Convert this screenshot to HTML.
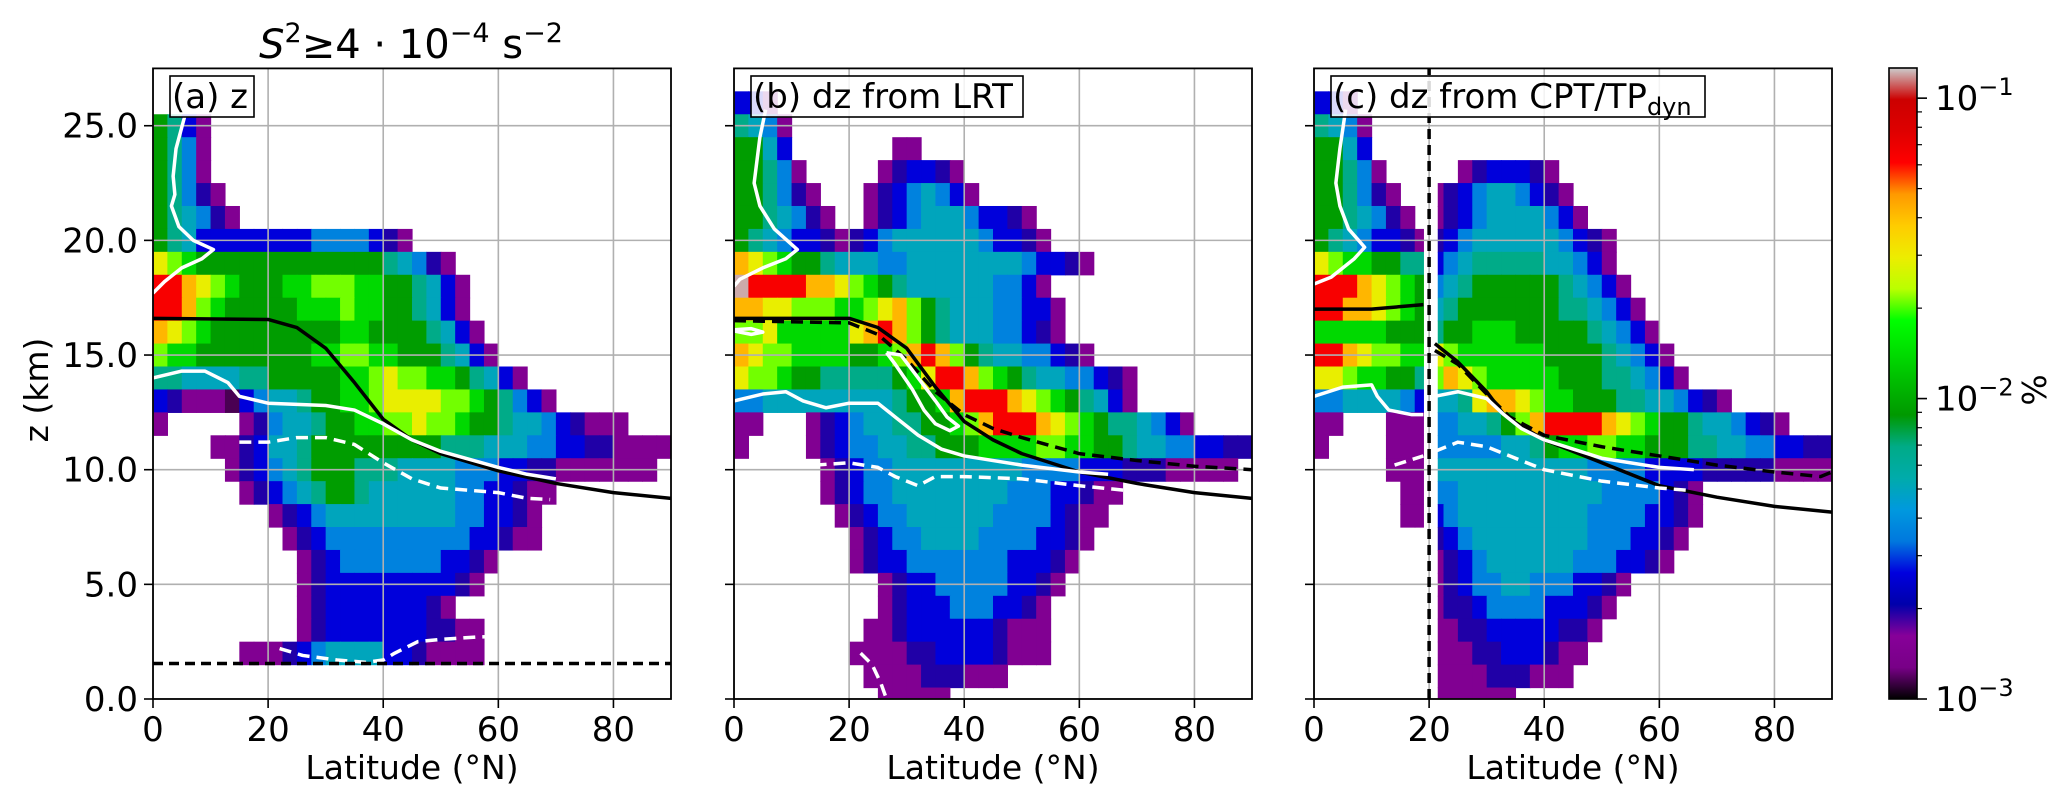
<!DOCTYPE html>
<html><head><meta charset="utf-8">
<style>
html,body{margin:0;padding:0;background:#fff;}
svg{display:block;font-family:"DejaVu Sans","Liberation Sans",sans-serif;}
</style></head>
<body>
<svg id="fig" xmlns="http://www.w3.org/2000/svg" width="2067" height="805" viewBox="0 0 2067 805">
<text x="411" y="58" font-size="40" text-anchor="middle"><tspan font-style="italic">S</tspan><tspan font-size="27" dy="-16">2</tspan><tspan dy="16">≥4 · 10</tspan><tspan font-size="27" dy="-16">−4</tspan><tspan dy="16"> s</tspan><tspan font-size="27" dy="-16">−2</tspan></text>
<g id="panels"></g>
<g id="cbar"></g>
</svg>
<script>
// ---- data ----
const latEdgeStep = 2.5; // degrees per column
const rowTops = [26.5,25.5,24.5,23.5,22.5,21.5,20.5,19.5,18.5,17.5,16.5,15.5,14.5,13.5,12.5,11.5,10.5,9.5,8.5,7.5,6.5,5.5,4.5,3.5,2.5,1.5,0.5];
const levelCodes = "0123456789ABCD";
const levelValues = [0.00116,0.00147,0.00195,0.0026,0.0036,0.0050,0.0069,0.0091,0.0138,0.0211,0.0290,0.0418,0.0640,0.121];
const gridA = ["","7631","7641","7641","76421","765421","765333333334444321","A98777777777777765421","CCBA987778899988776531","CCB9877777888988776531","BA987777777778877776531","988777777778899887776531","6655556677777889A998876531","3211103455677889AAAA99876431","1.....124556778899A99877655432111","....11235567777777776665554433221111",".....123456777666555544433221111111","......1234567765555554433211","........1234555555555443321",".........123444444444433211","..........12344444443321","..........1233333333321","..........12333333321","..........1233333332211","......11123455553321111","",""];
const gridB = ["331","6541","7753.......11","77641.....123321","776421...12345431","7765421..123455543321","7654332123455555543321","BA98776555445555555543321","DCCCCBBA98765555554431","BBAA999889AB97655544331","99A88888ABCB97655544321","BA9988887789BCB9765544321","A998776666678ACCB98765544321","445555555556778BCCCBA9876531","11...123455667789BCCCBA987665431","1....1234455667778888998877655443322","......12344555555555444433322211111","......123445555555544433211",".......1234455555544443211","........12344555544443321","........1233444444433321","..........1233444443321","..........123334443321",".........1123333332111","........11112233332111",".........1111222111","..........11111"];
const gridCLeft = ["331","6541","7753","77641","776421","7765421","76543321","A9887766","CCCBA987","CCBBA987","88888777","CCBA9988","AA988776","44555543","11...111","1....111",".....111","......11","......11","","","","","","","",""];
const gridCRight = ["","","","..1233321","1234554321","12345555431","2345555554321","3456666655431","45677777765431","567777777665431","6778887777765431","A9888888777765431","9BA988888777665431","556ABBA98877766554321","4455679BCCCCBA98776554321","4444455678899887776655443322","5555555555544443333222221111","4455555555554444321","3455555555544443321","234555555554443321","12345555554443321","12344554443321","1223444433321","112233333221","11122333211","1111222111","111111"];
// lines: [lat, z]
const tpA = [[0,16.6],[20,16.55],[25,16.2],[30,15.3],[35,13.8],[40,12.2],[45,11.3],[50,10.7],[60,9.95],[70,9.4],[80,9.0],[90,8.75]];
const wUpA = [[5.5,25.4],[4,24],[3.5,22.8],[3.8,22],[3.2,21.5],[4.5,20.6],[7,20],[10.5,19.6],[8.5,19.2],[5,18.8],[2,18.2],[0,17.7]];
const wLoA = [[0,14],[5,14.3],[9,14.3],[13,13.8],[15,13.2],[20,12.9],[30,12.8],[35,12.6],[40,12.0],[45,11.3],[50,10.8],[60,10.1],[65,9.8],[70,9.6]];
const wDashA = [[15,11.2],[20,11.2],[25,11.4],[30,11.4],[35,11.1],[40,10.3],[45,9.6],[50,9.2],[60,9.0],[65,8.75],[69,8.7]];
const wDashA2 = [[22,2.2],[26,1.9],[32,1.7],[37,1.6],[40,1.7],[42,2.0],[46,2.5],[50,2.6],[56,2.7],[62,2.75]];
const blDashA = [[0,1.55],[90,1.55]];
const tpB = [[0,16.6],[20,16.6],[25,16.2],[30,15.3],[35,13.6],[40,12.1],[45,11.3],[50,10.7],[60,9.9],[70,9.4],[80,9.0],[90,8.75]];
const blDashB = [[0,16.5],[20,16.4],[25,15.9],[30,14.8],[35,13.4],[40,12.4],[45,11.8],[50,11.4],[60,10.7],[70,10.4],[80,10.15],[90,10.0]];
const wUpB = [[5.5,25.7],[4.5,24.5],[3.5,22.5],[4.5,21.5],[7,20.5],[11,19.6],[9,19.2],[5,18.8],[1,18.3],[0,18.0]];
const wLoB = [[0,13.0],[5,13.3],[9,13.4],[12,13.0],[16,12.7],[20,12.9],[25,12.9],[28,12.3],[32,11.5],[36,10.9],[40,10.6],[50,10.2],[60,9.9],[65,9.8]];
const wLoopB = [[26.5,15.1],[29,15.0],[32,14.0],[35,13.0],[37,12.3],[39,11.9],[37.5,11.7],[35,12.0],[33,12.6],[31,13.5],[28,14.6],[26.5,15.1]];
const wSmallB = [[0,16.05],[3,15.9],[5,16.0],[3,16.15],[0,16.1]];
const wDashB = [[14,10.2],[20,10.3],[25,10.1],[28,9.7],[32,9.3],[35,9.7],[40,9.7],[50,9.6],[60,9.3],[68,9.1]];
const wDashB2 = [[22,2.0],[24,1.5],[25.5,0.7],[26.5,0]];
const tpCL = [[0,17.0],[10,17.0],[19,17.2]];
const tpCR = [[21,15.5],[25,14.7],[30,13.4],[33,12.4],[36,11.9],[40,11.3],[45,10.8],[50,10.3],[60,9.3],[70,8.8],[80,8.4],[90,8.15]];
const blDashC = [[21,15.2],[25,14.6],[30,13.3],[34,12.3],[40,11.5],[50,11.0],[60,10.6],[70,10.2],[80,9.9],[88,9.7],[90,9.9]];
const wUpC = [[5.5,25.7],[4.5,24],[3.8,22.5],[4.5,21.5],[6,20.5],[8.8,19.7],[7,19.2],[3,18.4],[0,18.1]];
const wLoCL = [[0,13.2],[5,13.6],[10,13.7],[11,13.2],[13,12.6],[17,12.4],[19,12.4]];
const wLoCR = [[21,13.2],[25,13.4],[30,13.1],[33,12.4],[36,11.8],[40,11.3],[50,10.5],[60,10.1],[66,10.0]];
const wDashCL = [[14,10.2],[19,10.6]];
const wDashCR = [[21,10.8],[25,11.2],[30,11.0],[35,10.5],[40,10.0],[50,9.5],[60,9.2],[65,9.1]];
const vLineC = [[20,0],[20,27.5]];
const xTicks = [0,20,40,60,80];
const yTicks = [0,5,10,15,20,25];
const yTickLabels = ["0.0","5.0","10.0","15.0","20.0","25.0"];
const cbMajor = [0.001,0.01,0.1];
const cbMajorLabels = ["−3","−2","−1"];

// ---- geometry ----
const NS="http://www.w3.org/2000/svg";
const TOP=68.4, BOT=699, ZMAX=27.5, PW=518;
const lefts=[153,734,1314];
const yS = z => BOT - z*(BOT-TOP)/ZMAX;
const cmapStops=[[0,0,0,0],[0.05,0.47,0,0.53],[0.1,0.53,0,0.6],[0.15,0,0,0.67],[0.2,0,0,0.87],[0.25,0,0.47,0.87],[0.3,0,0.6,0.87],[0.35,0,0.67,0.67],[0.4,0,0.67,0.53],[0.45,0,0.6,0],[0.5,0,0.73,0],[0.55,0,0.87,0],[0.6,0,1,0],[0.65,0.73,1,0],[0.7,0.93,0.93,0],[0.75,1,0.8,0],[0.8,1,0.6,0],[0.85,1,0,0],[0.9,0.87,0,0],[0.95,0.8,0,0],[1,0.8,0.8,0.8]];
function cmap(f){f=Math.max(0,Math.min(1,f));for(let i=1;i<cmapStops.length;i++){const a=cmapStops[i-1],b=cmapStops[i];if(f<=b[0]){const t=(f-a[0])/(b[0]-a[0]);return 'rgb('+[1,2,3].map(k=>Math.round(255*(a[k]+t*(b[k]-a[k])))).join(',')+')';}}return 'rgb(204,204,204)';}
const VMIN=0.001, VMAX=0.126;
const frac = v => (Math.log10(v)-Math.log10(VMIN))/(Math.log10(VMAX)-Math.log10(VMIN));
function el(tag,attrs,parent){const e=document.createElementNS(NS,tag);for(const k in attrs)e.setAttribute(k,attrs[k]);parent.appendChild(e);return e;}

const panelsG=document.getElementById('panels');
const defs=el('defs',{},panelsG);

function drawGrid(g,xS,rows,startCol,lo,hi,name){
  rows.forEach((s,r)=>{
    const zt=rowTops[r], zb=zt-1;
    for(let i=0;i<s.length;i++){
      const ch=s[i]; const li=levelCodes.indexOf(ch); if(li<0) continue;
      const col=startCol+i; let la0=col*latEdgeStep, la1=la0+latEdgeStep;
      la0=Math.max(la0,lo); la1=Math.min(la1,hi); if(la1<=la0) continue;
      const rc=el('rect',{x:xS(la0),y:yS(zt),width:xS(la1)-xS(la0)+0.6,height:yS(zb)-yS(zt)+0.6,fill:cmap(frac(levelValues[li]))},g);
      
      
    }
  });
}
function line(g,xS,pts,stroke,dash,name,w){
  const p=el('polyline',{points:pts.map(q=>xS(q[0])+','+yS(q[1])).join(' '),fill:'none',stroke:stroke,'stroke-width':w||3,'stroke-dasharray':dash||'none','stroke-linejoin':'round'},g);
  
  
}

const panelDefs=[
 {id:'a',label:'(a) z',grids:[[gridA,0,0,90]],
  lines:[[tpA,'#000',null,'tropopause-line'],[wUpA,'#fff',null,'white-contour-upper'],[wLoA,'#fff',null,'white-contour-lower'],[wDashA,'#fff','12,7','white-dashed-contour'],[wDashA2,'#fff','12,7','white-dashed-contour-low'],[blDashA,'#000','10,6','black-dashed-line']],boxW:84},
 {id:'b',label:'(b) dz from LRT',grids:[[gridB,0,0,90]],
  lines:[[tpB,'#000',null,'tropopause-line'],[blDashB,'#000','12,7','black-dashed-line'],[wUpB,'#fff',null,'white-contour-upper'],[wLoB,'#fff',null,'white-contour-lower'],[wLoopB,'#fff',null,'white-contour-loop'],[wSmallB,'#fff',null,'white-contour-small'],[wDashB,'#fff','12,7','white-dashed-contour'],[wDashB2,'#fff','12,7','white-dashed-contour-low']],boxW:272},
 {id:'c',label:'(c) dz from CPT/TP',grids:[[gridCLeft,0,0,19],[gridCRight,8,21.5,90]],
  lines:[[tpCL,'#000',null,'tropopause-line-left'],[tpCR,'#000',null,'tropopause-line-right'],[blDashC,'#000','12,7','black-dashed-line'],[wUpC,'#fff',null,'white-contour-upper'],[wLoCL,'#fff',null,'white-contour-lower-left'],[wLoCR,'#fff',null,'white-contour-lower-right'],[wDashCL,'#fff','12,7','white-dashed-contour-left'],[wDashCR,'#fff','12,7','white-dashed-contour-right'],[vLineC,'#000','10,6','vertical-dashed-line-20N']],boxW:374}
];

panelDefs.forEach((P,pi)=>{
  const L=lefts[pi]; const xS=lat=>L+lat*PW/90;
  const g=el('g',{},panelsG);
  
  
  const cp=el('clipPath',{id:'clip'+P.id},defs);
  el('rect',{x:L,y:TOP,width:PW,height:BOT-TOP},cp);
  const hg=el('g',{'clip-path':'url(#clip'+P.id+')'},g);
  
  
  P.grids.forEach(G=>drawGrid(hg,xS,G[0],G[1],G[2],G[3],'heatmap-cell'));
  xTicks.forEach(t=>{const gl=el('line',{x1:xS(t),x2:xS(t),y1:TOP,y2:BOT,stroke:'#b0b0b0','stroke-width':1.6},hg);});
  yTicks.forEach(t=>{const gl=el('line',{x1:L,x2:L+PW,y1:yS(t),y2:yS(t),stroke:'#b0b0b0','stroke-width':1.6},hg);});
  P.lines.forEach(l=>line(hg,xS,l[0],l[1],l[2],l[3],3.5));
  const sp=el('rect',{x:L,y:TOP,width:PW,height:BOT-TOP,fill:'none',stroke:'#000','stroke-width':1.8},g);
  
  
  xTicks.forEach(t=>{
    el('line',{x1:xS(t),x2:xS(t),y1:BOT,y2:BOT+9,stroke:'#000','stroke-width':1.6},g);
    const tx=el('text',{x:xS(t),y:BOT+42,'font-size':34,'text-anchor':'middle'},g);tx.textContent=t;
    
    
  });
  yTicks.forEach((t,i)=>{
    el('line',{x1:L-9,x2:L,y1:yS(t),y2:yS(t),stroke:'#000','stroke-width':1.6},g);
    if(pi==0){const tx=el('text',{x:L-15,y:yS(t)+12,'font-size':34,'text-anchor':'end'},g);tx.textContent=yTickLabels[i];
    
    }
  });
  const xl=el('text',{x:L+PW/2,y:779,'font-size':33,'text-anchor':'middle'},g);xl.textContent='Latitude (°N)';
  
  
  const bx=el('rect',{x:L+17,y:76,width:P.boxW,height:41,fill:'#fff','fill-opacity':0.85,stroke:'#000','stroke-width':1.6},g);
  
  
  const lt=el('text',{x:L+19,y:108,'font-size':34},g);lt.textContent=P.label;
  if(P.id=='c'){const ts=el('tspan',{'font-size':24,dy:7},lt);ts.textContent='dyn';}
  
  
});
const yl=el('text',{x:0,y:0,'font-size':33,'text-anchor':'middle',transform:'translate(48,390) rotate(-90)'},panelsG);
yl.textContent='z (km)';



// colorbar
const cb=document.getElementById('cbar');
const CX=1889, CW=28, CT=68, CB=699;
const cbY=v=>CB-frac(v)*(CB-CT);
const grad=el('linearGradient',{id:'cbg',x1:0,y1:1,x2:0,y2:0},defs);
for(let i=0;i<=60;i++){el('stop',{offset:i/60,'stop-color':cmap(i/60)},grad);}
const cr=el('rect',{x:CX,y:CT,width:CW,height:CB-CT,fill:'url(#cbg)',stroke:'#000','stroke-width':1.6},cb);


cbMajor.forEach((v,i)=>{
  el('line',{x1:CX+CW,x2:CX+CW+10,y1:cbY(v),y2:cbY(v),stroke:'#000','stroke-width':1.6},cb);
  const t=el('text',{x:CX+CW+18,y:cbY(v)+12,'font-size':34},cb);
  t.textContent='10';
  const s=el('tspan',{'font-size':24,dy:-15},t);s.textContent=cbMajorLabels[i];
  
  
  if(i<2){for(let m=2;m<=9;m++){const mv=v*m;if(mv>VMAX)break;el('line',{x1:CX+CW,x2:CX+CW+5,y1:cbY(mv),y2:cbY(mv),stroke:'#000','stroke-width':1.2},cb);}}
});
const pc=el('text',{x:0,y:0,'font-size':33,'text-anchor':'middle',transform:'translate(2046,390) rotate(-90)'},cb);
pc.textContent='%';


</script>
</body></html>
